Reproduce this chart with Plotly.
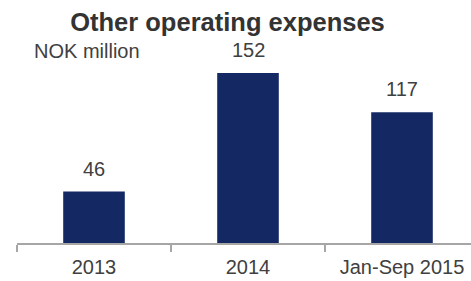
import plotly.graph_objects as go

categories = ["2013", "2014", "Jan-Sep 2015"]
values = [46, 152, 117]
title_text = "Other operating expenses"
unit_text = "NOK million"

FONT = "Arial, Liberation Sans, sans-serif"
TXT = "#404040"
BAR = "#142864"

fig = go.Figure()
fig.add_trace(go.Bar(
    x=categories,
    y=values,
    width=0.4,
    marker=dict(color=BAR, line=dict(width=0)),
    hoverinfo="skip",
))

for i, v in enumerate(values):
    fig.add_annotation(
        x=i, y=v, xref="x", yref="y", text=str(v), showarrow=False,
        yanchor="bottom", yshift=10, font=dict(family=FONT, size=20, color=TXT),
    )

fig.add_annotation(
    x=(32 - 17) / 454, y=(243 - 51) / 183, xref="paper", yref="paper",
    text=unit_text, showarrow=False, xanchor="left", yanchor="middle",
    font=dict(family=FONT, size=20, color=TXT),
)

fig.update_layout(
    width=471, height=281,
    margin=dict(l=17, r=0, t=60, b=38),
    plot_bgcolor="white", paper_bgcolor="white",
    showlegend=False,
    title=dict(
        text="<b>" + title_text + "</b>",
        x=227.5 / 471, xref="container", xanchor="center",
        y=1 - 22 / 281, yref="container", yanchor="middle",
        font=dict(family=FONT, size=25.5, color="#333333"),
    ),
    xaxis=dict(
        type="category",
        range=[-0.5, -0.5 + 454 / 154],
        tickson="boundaries",
        ticks="outside", ticklen=7, tickwidth=2, tickcolor="#a6a6a6",
        showline=True, linecolor="#a6a6a6", linewidth=2,
        showgrid=False, zeroline=False, automargin=False,
        ticklabelstandoff=5,
        tickfont=dict(family=FONT, size=20, color=TXT),
    ),
    yaxis=dict(
        range=[0, 183 / 1.118],
        visible=False, showgrid=False, zeroline=False,
    ),
)

fig.write_html(
    "out.html",
    config={"displayModeBar": False, "staticPlot": True},
    post_script="document.body.style.margin='0';document.body.style.overflow='hidden';",
)
